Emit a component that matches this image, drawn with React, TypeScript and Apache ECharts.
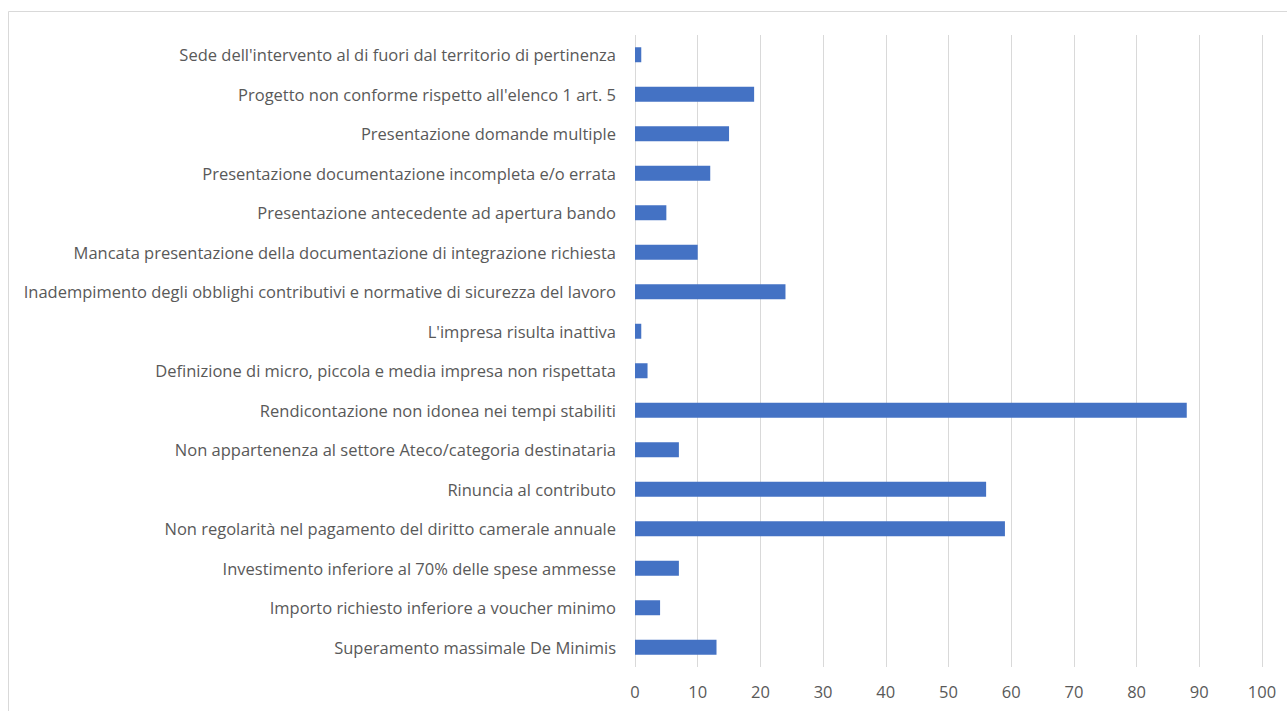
import React, { useEffect, useRef } from "react";
import * as echarts from "echarts";

const categories = [
  "Superamento massimale De Minimis",
  "Importo richiesto inferiore a voucher minimo",
  "Investimento inferiore al 70% delle spese ammesse",
  "Non regolarità nel pagamento del diritto camerale annuale",
  "Rinuncia al contributo",
  "Non appartenenza al settore Ateco/categoria destinataria",
  "Rendicontazione non idonea nei tempi stabiliti",
  "Definizione di micro, piccola e media impresa non rispettata",
  "L'impresa risulta inattiva",
  "Inadempimento degli obblighi contributivi e normative di sicurezza del lavoro",
  "Mancata presentazione della documentazione di integrazione richiesta",
  "Presentazione antecedente ad apertura bando",
  "Presentazione documentazione incompleta e/o errata",
  "Presentazione domande multiple",
  "Progetto non conforme rispetto all'elenco 1 art. 5",
  "Sede dell'intervento al di fuori dal territorio di pertinenza",
];

const values = [13, 4, 7, 59, 56, 7, 88, 2, 1, 24, 10, 5, 12, 15, 19, 1];

const xMin = 0;
const xMax = 100;
const xInterval = 10;

export default function App() {
  const ref = useRef<HTMLDivElement>(null);
  useEffect(() => {
    if (!ref.current) return;
    const chart = echarts.init(ref.current, null, { renderer: "svg" });
    chart.setOption({
      animation: false,
      backgroundColor: "#ffffff",
      textStyle: { fontFamily: "Open Sans" },
      graphic: [
        {
          type: "rect",
          shape: { x: 8.5, y: 11.5, width: 1300, height: 720 },
          style: { fill: "none", stroke: "#d9d9d9", lineWidth: 1 },
          silent: true,
        },
      ],
      grid: { left: 635, right: 25, top: 35, bottom: 44, containLabel: false },
      xAxis: {
        type: "value",
        min: xMin,
        max: xMax,
        interval: xInterval,
        axisLine: { show: false },
        axisTick: { show: false },
        axisLabel: { color: "#595959", fontSize: 16.5, margin: 16, fontFamily: "Open Sans" },
        splitLine: { show: true, lineStyle: { color: "#d9d9d9", width: 1 } },
      },
      yAxis: {
        type: "category",
        data: categories,
        axisLine: { show: false },
        axisTick: { show: false },
        axisLabel: { color: "#595959", fontSize: 16.5, margin: 19, fontFamily: "Open Sans" },
        splitLine: { show: false },
      },
      series: [
        {
          type: "bar",
          data: values,
          barWidth: 15,
          itemStyle: { color: "#4472c4" },
        },
      ],
    });
    return () => chart.dispose();
  }, []);
  return (
    <div
      ref={ref}
      style={{ position: "fixed", left: 0, top: 0, width: 1287, height: 711 }}
    />
  );
}
